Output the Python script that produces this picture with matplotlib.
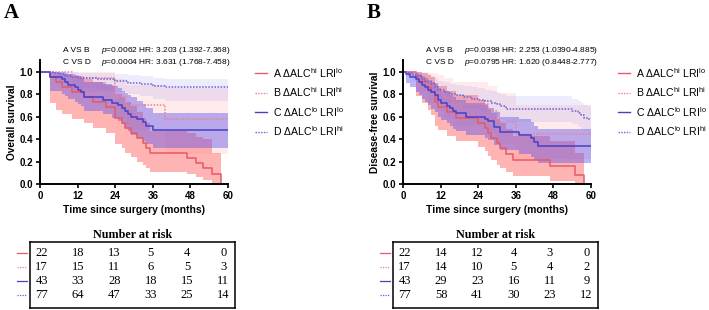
import matplotlib
matplotlib.use("Agg")
import matplotlib.pyplot as plt
from matplotlib.lines import Line2D

plt.rcParams['font.family'] = ['Liberation Sans', 'DejaVu Sans']
plt.rcParams['mathtext.fontset'] = 'custom'
plt.rcParams['mathtext.rm'] = 'Liberation Sans'
plt.rcParams['mathtext.it'] = 'Liberation Sans:italic'
plt.rcParams['mathtext.default'] = 'regular'

# ---- data: overall survival (panel A) ----
os_a_t = [0, 3, 5, 7, 10, 14, 17, 21, 24, 26, 27, 29, 31, 33, 34, 35, 47, 50, 52, 55, 58]
os_a_s = [1, .955, .909, .864, .818, .773, .727, .682, .59, .545, .50, .455, .41, .365, .32, .28, .23, .185, .14, .085, 0]
os_a_lo = [1, .72, .66, .62, .58, .54, .50, .45, .36, .32, .28, .24, .20, .17, .14, .11, .09, .06, .04, 0, 0]
os_a_hi = [1, 1, .99, .98, .96, .93, .91, .88, .80, .77, .73, .69, .64, .59, .54, .47, .45, .42, .40, .28, 0]

os_b_t = [0, 10, 24, 27.5, 40, 60]
os_b_s = [1, .94, .78, .70, .58, .58]
os_b_lo = [1, .82, .58, .48, .27, .27]
os_b_hi = [1, 1, .93, .88, .85, .85]

os_c_t = [0, 3, 7, 8, 9, 11, 12, 13, 14, 20, 23, 25, 26, 27, 28, 29, 31, 33, 34, 36, 60]
os_c_s = [1, .953, .93, .907, .884, .86, .837, .814, .77, .745, .72, .70, .675, .65, .625, .60, .575, .55, .52, .48, .48]
os_c_lo = [1, .83, .80, .78, .76, .73, .71, .69, .65, .62, .59, .56, .53, .50, .47, .44, .41, .38, .36, .32, .32]
os_c_hi = [1, 1, 1, .99, .98, .97, .96, .94, .91, .89, .87, .85, .83, .81, .79, .77, .74, .71, .68, .63, .63]

os_d_t = [0, 4, 6, 8, 10, 12, 18, 24, 28, 32, 36, 40, 60]
os_d_s = [1, .99, .975, .96, .95, .94, .93, .92, .90, .89, .87, .86, .86]
os_d_lo = [1, .93, .91, .89, .87, .85, .84, .82, .80, .78, .76, .74, .74]
os_d_hi = [1, 1, 1, 1, 1, .99, .99, .98, .97, .96, .94, .93, .93]

# ---- data: disease-free survival (panel B) ----
dfs_a_t = [0, 4, 6, 8, 9, 10, 11, 14, 17, 24, 26, 27, 28, 30, 31, 33, 35, 47, 55, 58]
dfs_a_s = [1, .955, .909, .864, .818, .727, .682, .636, .59, .545, .50, .455, .41, .364, .318, .27, .21, .16, .08, 0]
dfs_a_lo = [1, .78, .72, .66, .61, .52, .48, .43, .38, .33, .29, .25, .21, .17, .14, .11, .07, .03, 0, 0]
dfs_a_hi = [1, 1, .99, .97, .95, .90, .87, .83, .79, .75, .71, .67, .63, .58, .54, .49, .43, .38, .28, 0]

dfs_b_t = [0, 4, 8, 11, 13, 16, 27, 30, 36, 60]
dfs_b_s = [1, .94, .88, .82, .765, .71, .645, .555, .445, .445]
dfs_b_lo = [1, .82, .73, .65, .58, .52, .45, .36, .22, .22]
dfs_b_hi = [1, 1, .99, .97, .94, .91, .87, .81, .70, .70]

dfs_c_t = [0, 1, 2, 4, 5, 6, 7, 8, 9, 10, 11, 12, 14, 15, 16, 17, 20, 26, 27, 29, 31, 37, 41, 42, 43, 60]
dfs_c_s = [1, .977, .953, .93, .907, .884, .86, .837, .814, .79, .744, .72, .698, .674, .65, .628, .60, .58, .558, .51, .465, .44, .41, .37, .34, .34]
dfs_c_lo = [1, .90, .86, .82, .79, .76, .73, .70, .67, .64, .60, .57, .54, .52, .49, .47, .44, .41, .39, .35, .30, .27, .24, .21, .19, .19]
dfs_c_hi = [1, 1, 1, .99, .98, .96, .94, .92, .91, .89, .85, .83, .81, .79, .77, .75, .72, .70, .68, .64, .60, .58, .55, .52, .49, .49]

dfs_d_t = [0, 1, 3, 4, 6, 7, 9, 10, 11, 13, 15, 17, 19, 22, 24, 26, 28, 30, 31, 33, 54, 56, 57, 58, 59, 60]
dfs_d_s = [1, .99, .97, .96, .935, .92, .89, .86, .835, .82, .80, .79, .77, .76, .75, .74, .72, .71, .69, .665, .65, .63, .61, .59, .575, .575]
dfs_d_lo = [1, .95, .92, .90, .86, .84, .81, .78, .75, .73, .71, .70, .68, .67, .65, .64, .62, .60, .58, .55, .53, .51, .49, .47, .45, .45]
dfs_d_hi = [1, 1, 1, 1, .99, .98, .96, .94, .92, .91, .89, .88, .87, .86, .85, .84, .83, .82, .80, .78, .76, .74, .72, .70, .69, .69]

# number at risk
risk_times = [0, 12, 24, 36, 48, 60]
risk_os = [[22, 18, 13, 5, 4, 0], [17, 15, 11, 6, 5, 3], [43, 33, 28, 18, 15, 11], [77, 64, 47, 33, 25, 14]]
risk_dfs = [[22, 14, 12, 4, 3, 0], [17, 14, 10, 5, 4, 2], [43, 29, 23, 16, 11, 9], [77, 58, 41, 30, 23, 12]]

group_labels = [r'A $\Delta$ALC$^{hi}$ LRI$^{lo}$', r'B $\Delta$ALC$^{hi}$ LRI$^{hi}$',
                r'C $\Delta$ALC$^{lo}$ LRI$^{lo}$', r'D $\Delta$ALC$^{lo}$ LRI$^{hi}$']
stats_os = [r'$\it{p}$=0.0062 HR: 3.203 (1.392-7.368)', r'$\it{p}$=0.0004 HR: 3.631 (1.768-7.458)']
stats_dfs = [r'$\it{p}$=0.0398 HR: 2.253 (1.0390-4.885)', r'$\it{p}$=0.0795 HR: 1.620 (0.8448-2.777)']

# styles
line_col = ['#e65a66', '#f0808c', '#4a3ec4', '#6a5fd8']
band_col = ['#ff5a5a', '#ff7a7a', '#5a4fec', '#7a70f0']
band_alpha = [0.45, 0.15, 0.42, 0.13]
dotted = (0, (1, 1))
line_ls = ['-', dotted, '-', dotted]

W, H = 709, 310
fig = plt.figure(figsize=(W / 100, H / 100), dpi=100)


def px_axes(x0, y0, x1, y1):
    return fig.add_axes([x0 / W, 1 - y1 / H, (x1 - x0) / W, (y1 - y0) / H])


def draw_panel(x0, groups, ylabel, stats, risk, letter):
    ax = px_axes(x0, 60.3, x0 + 187.4, 184)
    for i, (t, s, lo, hi) in enumerate(groups):
        ax.fill_between(t, lo, hi, step='post', color=band_col[i], alpha=band_alpha[i], lw=0)
    for i, (t, s, lo, hi) in enumerate(groups):
        ax.step(t, s, where='post', color=line_col[i], lw=1.1, ls=line_ls[i])
    ax.set_xlim(0, 60)
    ax.set_ylim(0, 1.1)
    ax.set_xticks(risk_times)
    ax.set_yticks([0, .2, .4, .6, .8, 1.0])
    ax.set_yticklabels(['0.0', '0.2', '0.4', '0.6', '0.8', '1.0'])
    ax.spines['top'].set_visible(False)
    ax.spines['right'].set_visible(False)
    for sp in ('left', 'bottom'):
        ax.spines[sp].set_linewidth(1.4)
    ax.tick_params(direction='out', length=3, width=1.2, labelsize=7, pad=2)
    for lbl in ax.get_xticklabels() + ax.get_yticklabels():
        lbl.set_fontweight('bold')
    ax.set_xlabel('Time since surgery (months)', fontsize=7.5, fontweight='bold', labelpad=3)
    ax.set_ylabel(ylabel, fontsize=7.3, fontweight='bold', labelpad=2)

    # comparison text
    for k, (name, txt) in enumerate(zip(['A VS B', 'C VS D'], stats)):
        y = 1 - (50 + 12 * k) / H
        fig.text((x0 + 23) / W, y, name, fontsize=6.0, va='center')
        fig.text((x0 + 61) / W, y, txt, fontsize=6.0, va='center')

    # legend
    lx = x0 + 215
    for i, lab in enumerate(group_labels):
        y = 1 - (73 + 19.5 * i) / H
        fig.add_artist(Line2D([lx / W, (lx + 12) / W], [y, y], color=line_col[i],
                              ls=line_ls[i], lw=1.0, transform=fig.transFigure))
        fig.text((lx + 18) / W, y, lab, fontsize=7.6, va='center')

    # panel letter
    fig.text((x0 - 37) / W, 1 - 3 / H, letter, fontsize=15, fontweight='bold',
             family='Liberation Serif', va='top')

    # number at risk table
    tb = px_axes(x0 - 10.3, 242, x0 + 194.7, 308)
    tb.set_xlim(-3.87, 63.86)
    tb.set_ylim(3.93, -0.79)
    tb.set_xticks([])
    tb.set_yticks([])
    for sp in tb.spines.values():
        sp.set_linewidth(1.1)
    for r, row in enumerate(risk):
        for t, n in zip(risk_times, row):
            tb.text(t, r, str(n), ha='center', va='center', fontsize=9,
                    family='Liberation Serif')
        tb.plot([-8.2, -4.9], [r, r], color=line_col[r], ls=line_ls[r], lw=0.9,
                clip_on=False)
    tb.set_title('Number at risk', fontsize=8.7, fontweight='bold',
                 family='Liberation Serif', pad=3)
    return ax


os_groups = [(os_a_t, os_a_s, os_a_lo, os_a_hi), (os_b_t, os_b_s, os_b_lo, os_b_hi),
             (os_c_t, os_c_s, os_c_lo, os_c_hi), (os_d_t, os_d_s, os_d_lo, os_d_hi)]
dfs_groups = [(dfs_a_t, dfs_a_s, dfs_a_lo, dfs_a_hi), (dfs_b_t, dfs_b_s, dfs_b_lo, dfs_b_hi),
              (dfs_c_t, dfs_c_s, dfs_c_lo, dfs_c_hi), (dfs_d_t, dfs_d_s, dfs_d_lo, dfs_d_hi)]

draw_panel(40.3, os_groups, 'Overall survival', stats_os, risk_os, 'A')
draw_panel(403.3, dfs_groups, 'Disease-free survival', stats_dfs, risk_dfs, 'B')

fig.savefig('out.png', dpi=100)
